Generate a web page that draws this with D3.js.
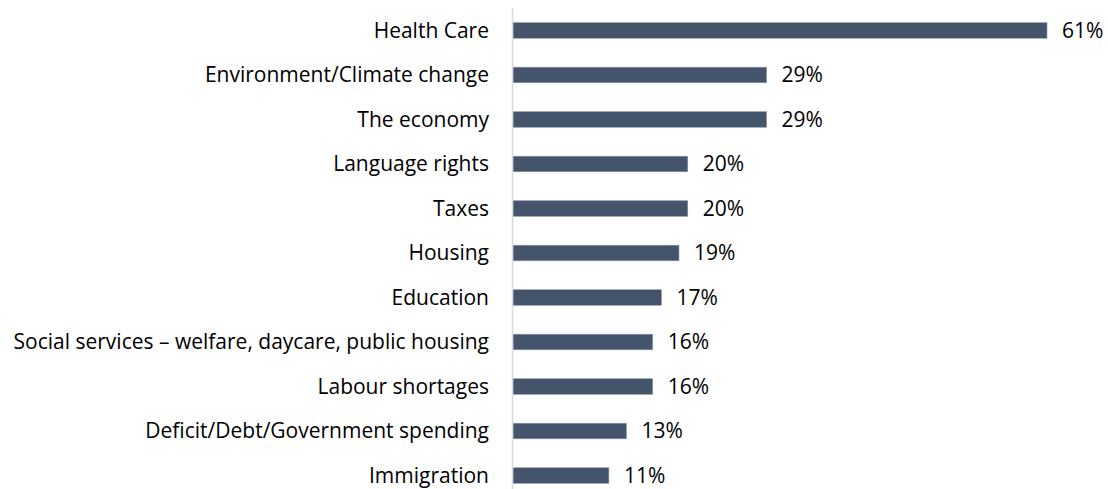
<!DOCTYPE html>
<html>
<head>
<meta charset="utf-8">
<script src="https://cdn.jsdelivr.net/npm/d3@7/dist/d3.min.js"></script>
<style>
  html, body { margin: 0; padding: 0; background: #fff; }
  svg { display: block; }
  text { font-family: "Open Sans", Lato, sans-serif; }
</style>
</head>
<body>
<svg id="chart" width="1108" height="489"></svg>
<script>
const categories = [
  "Health Care",
  "Environment/Climate change",
  "The economy",
  "Language rights",
  "Taxes",
  "Housing",
  "Education",
  "Social services \u2013 welfare, daycare, public housing",
  "Labour shortages",
  "Deficit/Debt/Government spending",
  "Immigration"
];
const values = [61, 29, 29, 20, 20, 19, 17, 16, 16, 13, 11];
const valueLabels = ["61%", "29%", "29%", "20%", "20%", "19%", "17%", "16%", "16%", "13%", "11%"];

const svg = d3.select("#chart");
const axisX = 512.5;
const x = d3.scaleLinear().domain([0, 61]).range([axisX, 1047]);
const y = d3.scaleBand().domain(categories).range([8, 498]).paddingInner(0.65).paddingOuter(0.33);

const data = categories.map((c, i) => ({ c, v: values[i], l: valueLabels[i] }));

svg.selectAll("rect.bar").data(data).join("rect")
  .attr("class", "bar")
  .attr("x", x(0) + 0.5)
  .attr("y", d => y(d.c))
  .attr("width", d => x(d.v) - x(0) - 0.5)
  .attr("height", y.bandwidth())
  .attr("fill", "#44546A")
  .attr("stroke", "#8a97a8")
  .attr("stroke-width", 0.6);

svg.append("line")
  .attr("x1", axisX).attr("x2", axisX)
  .attr("y1", 8).attr("y2", 489)
  .attr("stroke", "#d9d9d9").attr("stroke-width", 1.5);

svg.selectAll("text.cat").data(data).join("text")
  .attr("class", "cat")
  .attr("x", 489)
  .attr("y", d => y(d.c) + y.bandwidth() / 2)
  .attr("dy", "0.35em")
  .attr("text-anchor", "end")
  .attr("font-size", 21)
  .attr("fill", "#000")
  .text(d => d.c);

svg.selectAll("text.val").data(data).join("text")
  .attr("class", "val")
  .attr("x", d => x(d.v) + 15)
  .attr("y", d => y(d.c) + y.bandwidth() / 2)
  .attr("dy", "0.35em")
  .attr("font-size", 21)
  .attr("fill", "#000")
  .text(d => d.l);
</script>
</body>
</html>
